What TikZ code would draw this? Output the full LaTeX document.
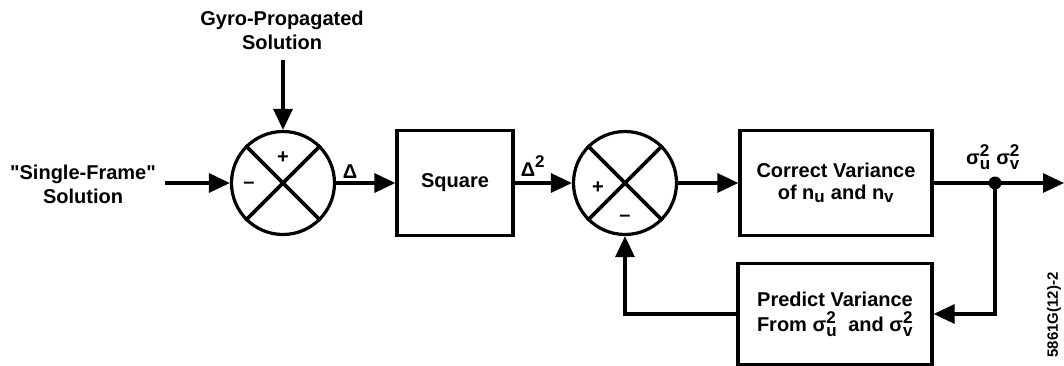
\documentclass[tikz,border=0pt]{standalone}
\usepackage{fontspec}
\setmainfont{Liberation Sans}
\usetikzlibrary{arrows.meta,calc}
\newcommand{\scr}[1]{\mbox{\fontsize{17}{17}\selectfont\bfseries #1}}
\newcommand{\sigsq}[1]{$\mbox{σ}^{\scr{2}}_{\scr{#1}}$}
\newcommand{\subn}[1]{$\mbox{n}_{\scr{#1}}$}
\begin{document}
\begin{tikzpicture}[x=1pt,y=-1pt,
  every node/.style={font=\fontsize{20}{24}\selectfont\bfseries, inner sep=0pt},
  conn/.style={line width=3.2pt},
  arr/.style={conn,-{Triangle[length=21pt,width=19pt]}},
  blk/.style={draw,line width=3.2pt,align=center,minimum height=105pt},
  sumc/.style={draw,circle,line width=3.2pt,minimum size=103pt},
  lab/.style={align=center}]
\useasboundingbox (0,0) rectangle (1064,366);
% nodes
\node[sumc] (s1) at (283,183) {};
\node[sumc] (s2) at (625,183) {};
\node[blk,minimum width=116pt] (sq) at (455,183) {Square};
\node[blk,minimum width=192pt] (cv) at (836,183) {Correct Variance\\[-2pt]of \subn{u} and \subn{v}};
\node[blk,minimum width=194pt,minimum height=101pt] (pv) at (835,314) {Predict Variance\\[1pt]From \sigsq{u}\ \ and \sigsq{v}};
\node[lab] (gyro) at (282,30) {Gyro-Propagated\\Solution};
\node[lab] (sf) at (83,184) {\textquotedbl Single-Frame\textquotedbl\\Solution};
\node (d1) at (350,172) {Δ};
\node (d2) at (533,166) {$\mbox{Δ}^{\scr{2}}$};
\node (sg) at (993,157) {\sigsq{u}\ \sigsq{v}};
\node[rotate=90,font=\fontsize{15}{15}\selectfont\bfseries] (id) at (1054,315) {5861G(12)-2};
\fill (995,183) circle (6.5pt) coordinate (dot);
\coordinate (out) at (1064,183);
\coordinate (gtop) at (283,60);
\coordinate (sfr) at (165,183);
% X marks
\foreach \s in {s1,s2}{
  \draw[line width=3.8pt] (\s.45) -- (\s.225);
  \draw[line width=3.8pt] (\s.135) -- (\s.315);
}
% signs
\node at (283,158) {+};
\node at (249,185) {--};
\node at (598,188) {+};
\node at (625,218) {--};
% connectors
\draw[arr] (gtop) -- (s1.north);
\draw[arr] (sfr) -- (s1.west);
\draw[arr] (s1.east) -- (sq.west);
\draw[arr] (sq.east) -- (s2.west);
\draw[arr] (s2.east) -- (cv.west);
\draw[arr] (cv.east) -- (out);
\draw[arr] (dot) |- (pv.east);
\draw[arr] (pv.west) -| (s2.south);
\end{tikzpicture}
\end{document}
